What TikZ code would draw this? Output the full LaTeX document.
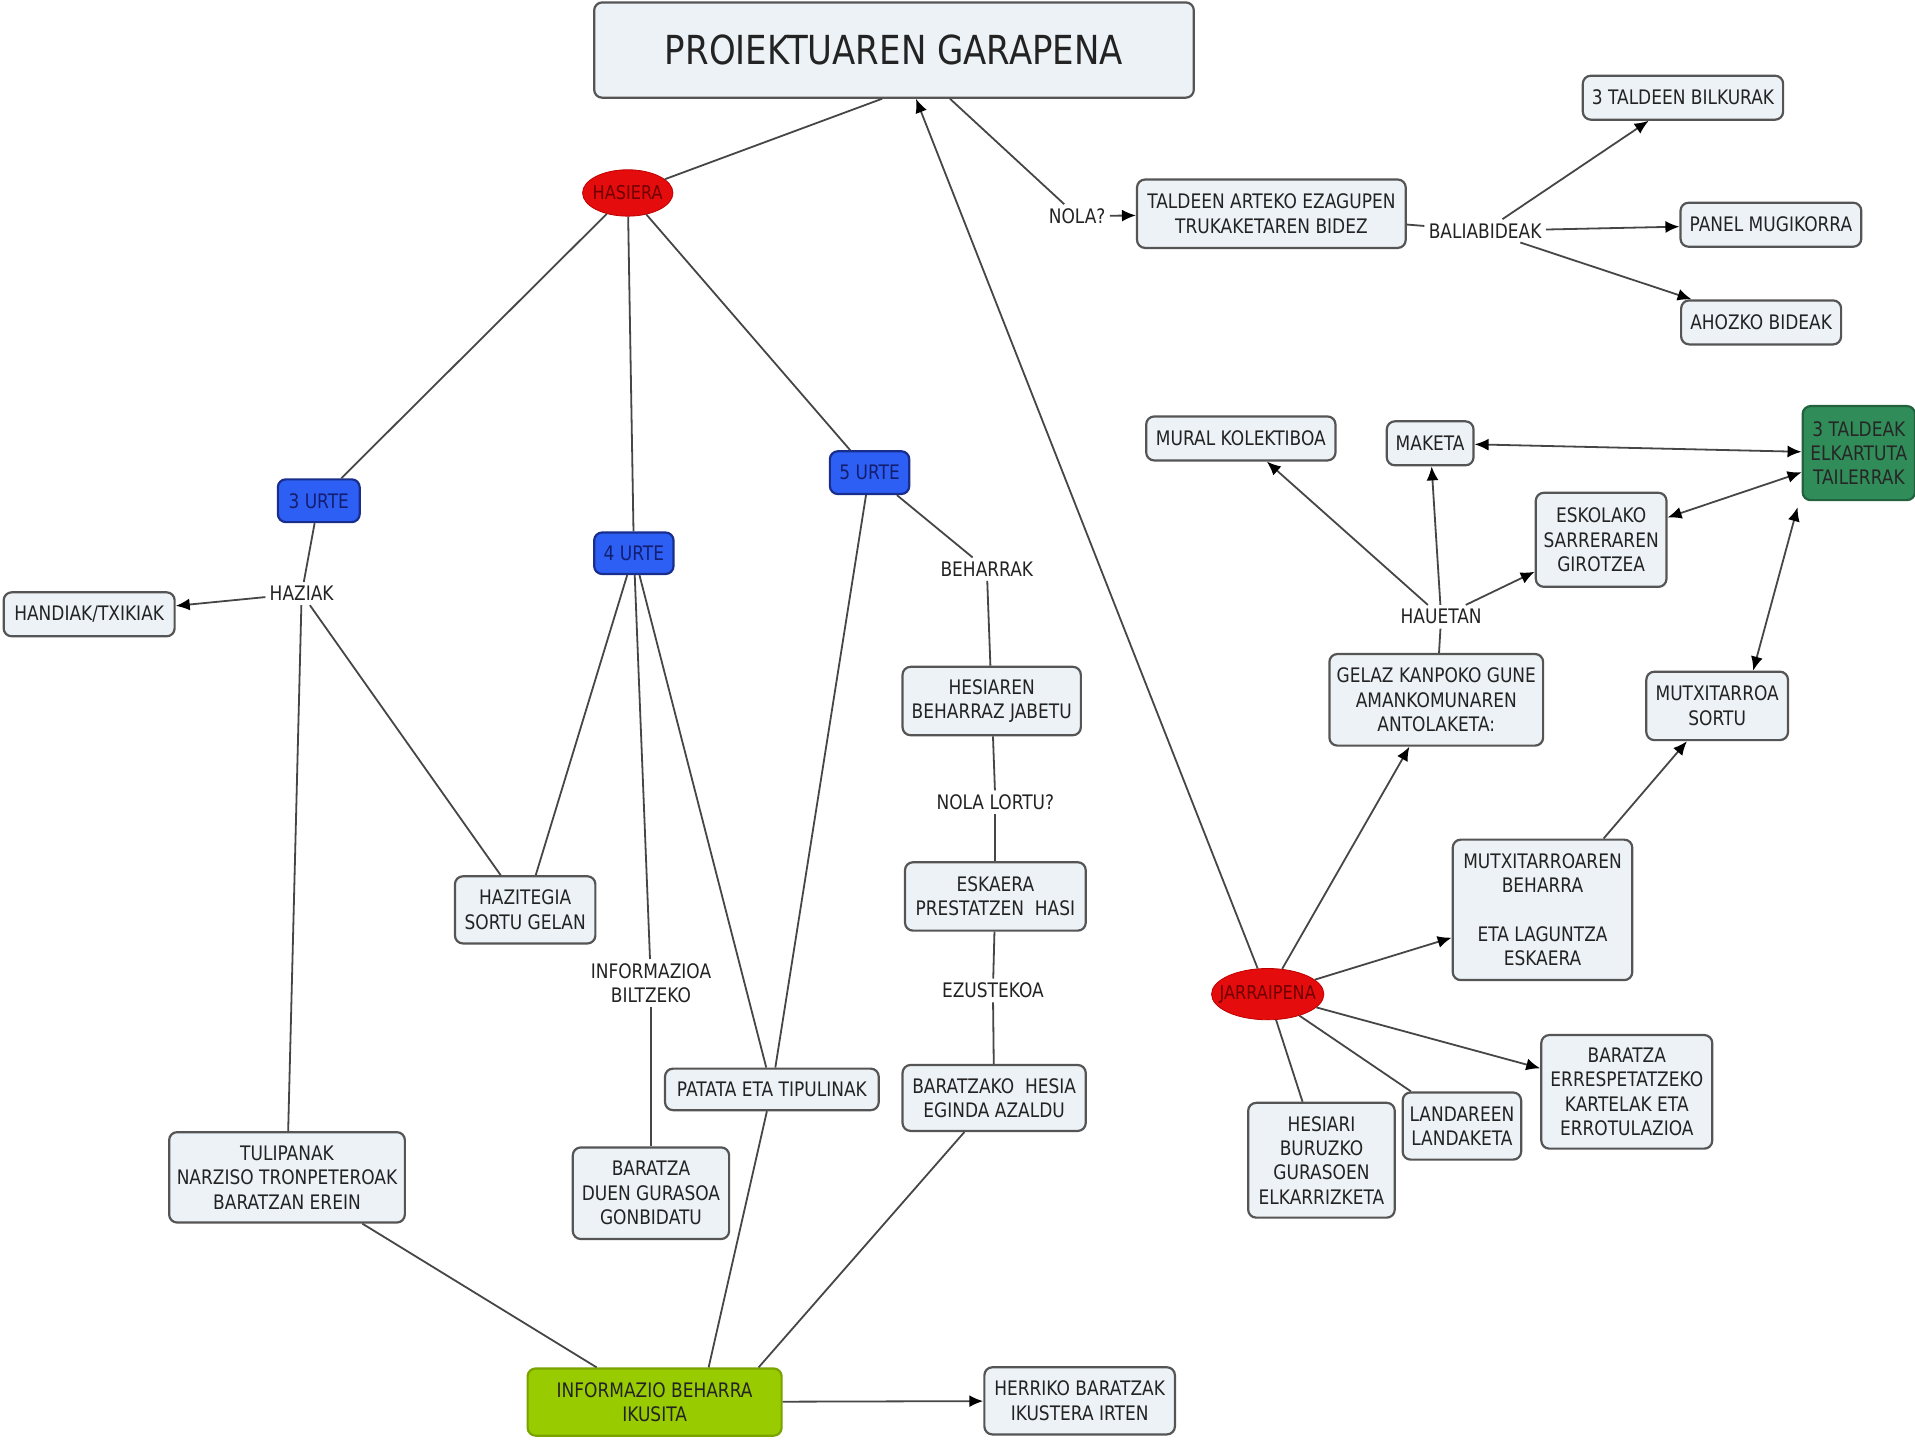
\documentclass[tikz,border=0pt]{standalone}
\usepackage{fontspec}
\setmainfont[FakeStretch=0.85]{DejaVu Sans}
\usetikzlibrary{arrows.meta,shapes.geometric}
\definecolor{boxfill}{RGB}{236,242,246}
\definecolor{boxline}{RGB}{85,85,85}
\definecolor{txt}{RGB}{35,35,35}
\definecolor{blu}{RGB}{45,95,245}
\definecolor{bluline}{RGB}{25,45,140}
\definecolor{blutxt}{RGB}{20,30,110}
\definecolor{redf}{RGB}{228,12,12}
\definecolor{redtxt}{RGB}{110,0,0}
\definecolor{lime}{RGB}{153,204,0}
\definecolor{dkgreen}{RGB}{48,140,88}
\definecolor{conn}{RGB}{70,70,70}
\tikzset{
  sz/.style 2 args={minimum width=#1*0.61065pt, minimum height=#2*0.61065pt},
  box/.style={draw=boxline, line width=1.1pt, fill=boxfill, rounded corners=4pt, align=center,
    font=\fontsize{10}{12.2}\selectfont, text=txt, inner sep=2pt},
  agebox/.style={box, fill=blu, draw=bluline, text=blutxt},
  oval/.style={ellipse, fill=redf, draw=red!75!black, text=redtxt, inner xsep=-6pt, inner ysep=0pt,
    font=\fontsize{9.5}{11.5}\selectfont},
  lbl/.style={font=\fontsize{10}{12.2}\selectfont, text=txt, inner sep=2pt, align=center},
  ln/.style={draw=conn, line width=0.9pt},
  arr/.style={ln, -{Latex[length=7pt,width=6pt,color=black]}},
  darr/.style={ln, {Latex[length=7pt,width=6pt,color=black]}-{Latex[length=7pt,width=6pt,color=black]}}
}
\begin{document}
\begin{tikzpicture}[x=0.61065pt, y=-0.61065pt]
\fill[white] (0,0) rectangle (1568,1179);
\useasboundingbox (0,0) rectangle (1568,1179);

% nodes
\node[box, sz={491}{78}, font=\fontsize{20}{24}\selectfont] (title) at (732,41) {PROIEKTUAREN GARAPENA};
\node[oval, sz={74}{38}] (hasiera) at (514,158) {HASIERA};
\node[lbl] (nola) at (882,177) {NOLA?};
\node[box, sz={220}{56}] (taldeen) at (1041,175) {TALDEEN ARTEKO EZAGUPEN\\TRUKAKETAREN BIDEZ};
\node[lbl] (bali) at (1216,189) {BALIABIDEAK};
\node[box, sz={164}{36}] (bilkurak) at (1378,80) {3 TALDEEN BILKURAK};
\node[box, sz={148}{36}] (panel) at (1450,184) {PANEL MUGIKORRA};
\node[box, sz={131}{36}] (ahozko) at (1442,264) {AHOZKO BIDEAK};

\node[agebox, sz={67}{35}] (u3) at (261,410) {3 URTE};
\node[lbl] (haziak) at (247,486) {HAZIAK};
\node[box, sz={140}{36}] (handiak) at (73,503) {HANDIAK/TXIKIAK};
\node[agebox, sz={65}{34}] (u4) at (519,453) {4 URTE};
\node[agebox, sz={65}{35}] (u5) at (712,387) {5 URTE};
\node[lbl] (beharrak) at (808,466) {BEHARRAK};
\node[box, sz={146}{56}] (hesiaren) at (812,574) {HESIAREN\\BEHARRAZ JABETU};
\node[lbl] (lortu) at (815,657) {NOLA LORTU?};
\node[box, sz={148}{56}] (eskaera) at (815,734) {ESKAERA\\PRESTATZEN\ \ HASI};
\node[lbl] (ezustekoa) at (813,811) {EZUSTEKOA};
\node[box, sz={150}{54}] (hesia) at (814,899) {BARATZAKO\ \ HESIA\\EGINDA AZALDU};
\node[box, sz={115}{55}] (hazitegia) at (430,745) {HAZITEGIA\\SORTU GELAN};
\node[lbl] (biltzeko) at (533,805) {INFORMAZIOA\\BILTZEKO};
\node[box, sz={175}{34}] (patata) at (632,892) {PATATA ETA TIPULINAK};
\node[box, sz={193}{74}] (tulipanak) at (235,964) {TULIPANAK\\NARZISO TRONPETEROAK\\BARATZAN EREIN};
\node[box, sz={128}{75}] (gurasoa) at (533,977) {BARATZA\\DUEN GURASOA\\GONBIDATU};
\node[box, fill=lime, draw=lime!80!black, sz={208}{55}] (info) at (536,1148) {INFORMAZIO BEHARRA\\IKUSITA};
\node[box, sz={156}{55}] (herriko) at (884,1147) {HERRIKO BARATZAK\\IKUSTERA IRTEN};

\node[box, sz={155}{36}] (mural) at (1016,359) {MURAL KOLEKTIBOA};
\node[box, sz={71}{36}] (maketa) at (1171,363) {MAKETA};
\node[box, fill=dkgreen, draw=dkgreen!70!black, text=black!85, sz={92}{77}] (taldeak) at (1522,371) {3 TALDEAK\\ELKARTUTA\\TAILERRAK};
\node[box, sz={107}{77}] (eskolako) at (1311,442) {ESKOLAKO\\SARRERAREN\\GIROTZEA};
\node[lbl] (hauetan) at (1180,505) {HAUETAN};
\node[box, sz={175}{75}] (gelaz) at (1176,573) {GELAZ KANPOKO GUNE\\AMANKOMUNAREN\\ANTOLAKETA:};
\node[box, sz={116}{56}] (mutxsortu) at (1406,578) {MUTXITARROA\\SORTU};
\node[box, sz={147}{115}] (mutxbeh) at (1263,745) {MUTXITARROAREN\\BEHARRA\\[12.2pt]ETA LAGUNTZA\\ESKAERA};
\node[oval, sz={92}{42}] (jarraipena) at (1038,814) {JARRAIPENA};
\node[box, sz={140}{93}] (errespeta) at (1332,894) {BARATZA\\ERRESPETATZEKO\\KARTELAK ETA\\ERROTULAZIOA};
\node[box, sz={97}{55}] (landareen) at (1197,922) {LANDAREEN\\LANDAKETA};
\node[box, sz={120}{94}] (hesiari) at (1082,950) {HESIARI\\BURUZKO\\GURASOEN\\ELKARRIZKETA};

% connectors
\draw[ln] ([xshift=-6pt]title.south) -- (hasiera);
\draw[arr] (jarraipena) -- ([xshift=11pt]title.south);
\draw[ln] ([xshift=28pt]title.south) -- (nola);
\draw[arr] (nola) -- (taldeen);
\draw[ln] (taldeen) -- (bali);
\draw[arr] (bali) -- (bilkurak);
\draw[arr] (bali) -- (panel);
\draw[arr] (bali) -- (ahozko);

\draw[ln] (hasiera) -- (u3);
\draw[ln] (hasiera) -- (u4);
\draw[ln] (hasiera) -- (u5);
\draw[ln] (u3) -- (haziak);
\draw[arr] (haziak) -- (handiak);
\draw[ln] (haziak) -- (hazitegia);
\draw[ln] (haziak) -- (tulipanak);
\draw[ln] (u4) -- (hazitegia);
\draw[ln] (u4) -- (biltzeko);
\draw[ln] (biltzeko) -- (gurasoa);
\draw[ln] (u4) -- (patata);
\draw[ln] (u5) -- (patata);
\draw[ln] (patata) -- ([xshift=27pt]info.north);
\draw[ln] (u5) -- (beharrak);
\draw[ln] (beharrak) -- (hesiaren);
\draw[ln] (hesiaren) -- (lortu);
\draw[ln] (lortu) -- (eskaera);
\draw[ln] (eskaera) -- (ezustekoa);
\draw[ln] (ezustekoa) -- (hesia);
\draw[ln] (hesia) -- ([xshift=52pt]info.north);
\draw[ln] (tulipanak) -- ([xshift=-29pt]info.north);
\draw[arr] (info) -- (herriko);

\draw[arr] (jarraipena) -- (gelaz);
\draw[arr] (jarraipena) -- (mutxbeh);
\draw[arr] (jarraipena) -- (errespeta);
\draw[ln] (jarraipena) -- (landareen);
\draw[ln] (jarraipena) -- (hesiari);
\draw[arr] (mutxbeh) -- (mutxsortu);
\draw[ln] (gelaz) -- (hauetan);
\draw[arr] (hauetan) -- (mural);
\draw[arr] (hauetan) -- (maketa);
\draw[arr] (hauetan) -- (eskolako);
\draw[darr] (maketa) -- (taldeak);
\draw[darr] (eskolako) -- (taldeak);
\draw[darr] ([xshift=18pt]mutxsortu.north) -- ([xshift=-2pt,yshift=-3pt]taldeak.south west);
\end{tikzpicture}
\end{document}
